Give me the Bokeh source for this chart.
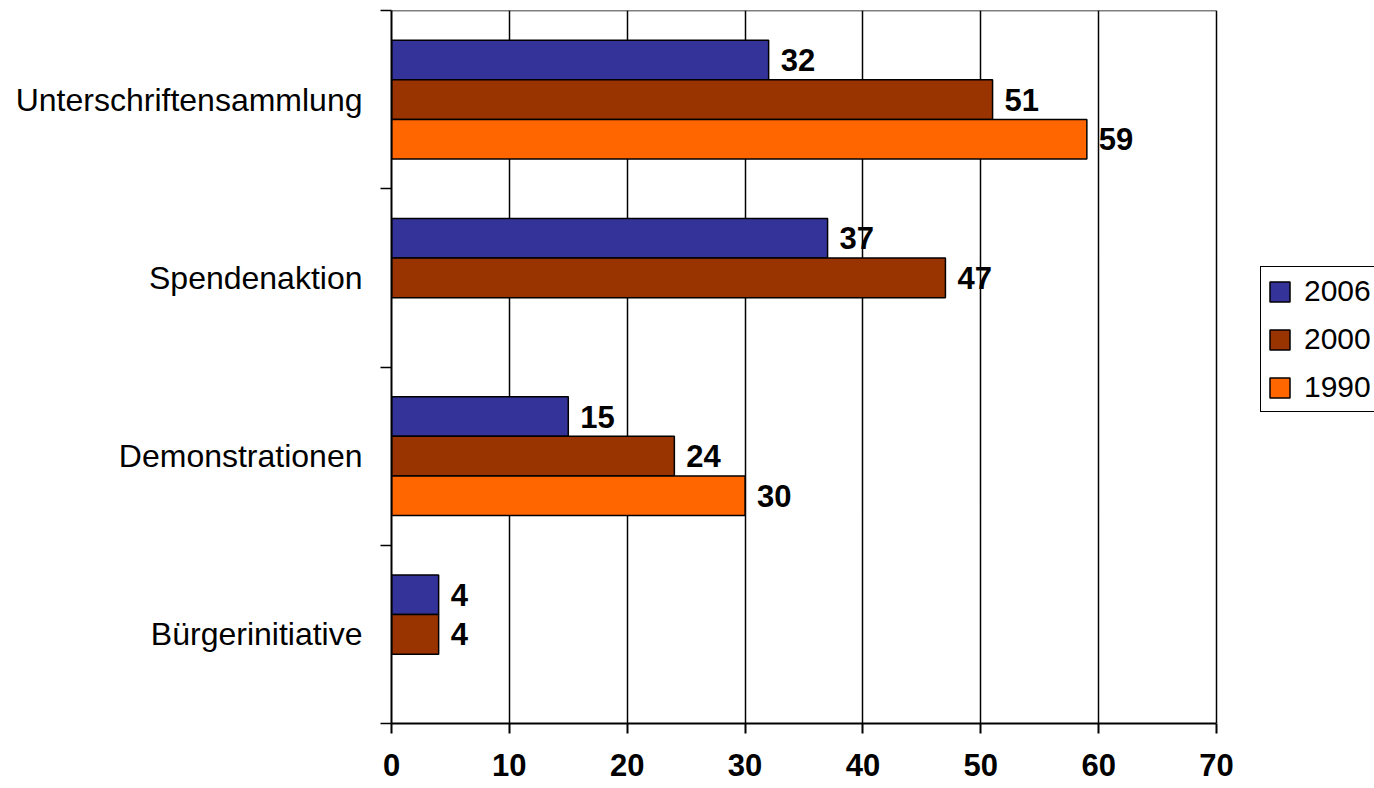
from bokeh.plotting import figure
from bokeh.models import (ColumnDataSource, Range1d, FixedTicker, LabelSet,
                          Legend, LegendItem)
from bokeh.core.properties import value
from bokeh.embed import file_html
from bokeh.resources import INLINE

# ---- data (top to bottom as shown) ----
categories = ["Unterschriftensammlung", "Spendenaktion", "Demonstrationen", "Bürgerinitiative"]
years = ["2006", "2000", "1990"]
v2006 = [32, 37, 15, 4]
v2000 = [51, 47, 24, 4]
v1990 = [59, None, 30, None]
colors = ["#333399", "#993300", "#FF6600"]
x_ticks = [0, 10, 20, 30, 40, 50, 60, 70]

FONT = "Liberation Sans"
n = len(categories)
bar_h = 0.222
offsets = [bar_h, 0.0, -bar_h]

# frame spans to the right edge so the legend (outside the value area) is not clipped;
# the value axis 0..70 occupies the left 825 of the 983 frame pixels
x_max = x_ticks[-1]
x_end = x_max * 983.0 / 825.0

p = figure(width=1374, height=788, output_backend="svg", toolbar_location=None,
           x_range=Range1d(0, x_end), y_range=Range1d(0, n),
           min_border_left=391, min_border_right=0,
           min_border_top=10, min_border_bottom=65)
p.background_fill_color = "white"
p.border_fill_color = "white"
p.outline_line_color = None

centers = [n - i - 0.5 for i in range(n)]

renderers = []
for series, col, off in zip([v2006, v2000, v1990], colors, offsets):
    ys, xs = [], []
    for c, v in zip(centers, series):
        if v is not None:
            ys.append(c + off)
            xs.append(v)
    src = ColumnDataSource(dict(y=ys, right=xs, lbl=[str(v) for v in xs]))
    r = p.hbar(y="y", right="right", left=0, height=bar_h, source=src,
               fill_color=col, line_color="black", line_width=1.5)
    renderers.append(r)
    p.add_layout(LabelSet(x="right", y="y", text="lbl", source=src,
                          x_offset=12, text_baseline="middle", text_align="left",
                          text_font=value(FONT), text_font_size="31px",
                          text_font_style="bold", text_color="black"))

# top edge of the plot area (0..70)
p.segment(x0=[0], y0=[n], x1=[x_max], y1=[n], line_color="black", line_width=1.5)

# x axis
p.xaxis.ticker = FixedTicker(ticks=x_ticks)
p.xaxis.bounds = (0, x_max)
p.xaxis.axis_line_color = "black"
p.xaxis.axis_line_width = 2
p.xaxis.major_tick_line_color = "black"
p.xaxis.major_tick_line_width = 2
p.xaxis.major_tick_out = 10
p.xaxis.major_tick_in = 0
p.xaxis.minor_tick_line_color = None
p.xaxis.minor_tick_out = 0
p.xaxis.major_label_standoff = 20
p.xaxis.major_label_text_font = FONT
p.xaxis.major_label_text_font_size = "31px"
p.xaxis.major_label_text_font_style = "bold"
p.xaxis.major_label_text_color = "black"

p.xgrid.ticker = FixedTicker(ticks=x_ticks)
p.xgrid.grid_line_color = "black"
p.xgrid.grid_line_width = 1.5
p.ygrid.visible = False

# y axis: labels at band centres, tick marks at band boundaries
p.yaxis.ticker = FixedTicker(ticks=centers, minor_ticks=list(range(n + 1)))
p.yaxis.major_label_overrides = {c: name for c, name in zip(centers, categories)}
p.yaxis.axis_line_color = "black"
p.yaxis.axis_line_width = 2
p.yaxis.major_tick_line_color = None
p.yaxis.major_tick_out = 0
p.yaxis.major_tick_in = 0
p.yaxis.minor_tick_line_color = "black"
p.yaxis.minor_tick_line_width = 1.5
p.yaxis.minor_tick_out = 11
p.yaxis.minor_tick_in = 0
p.yaxis.major_label_standoff = 18
p.yaxis.major_label_text_font = FONT
p.yaxis.major_label_text_font_size = "32px"
p.yaxis.major_label_text_color = "black"

legend = Legend(items=[LegendItem(label=y, renderers=[r]) for y, r in zip(years, renderers)],
                location=(869, 311), orientation="vertical",
                padding=6, spacing=12, margin=0,
                glyph_width=25, glyph_height=25, label_height=36, label_standoff=12,
                label_text_font=FONT, label_text_font_size="30px", label_text_color="black",
                border_line_color="black", border_line_width=1.5, border_line_alpha=1.0,
                background_fill_color="white", background_fill_alpha=1.0)
p.add_layout(legend, "center")

open("out.html", "w").write(file_html(p, INLINE))
